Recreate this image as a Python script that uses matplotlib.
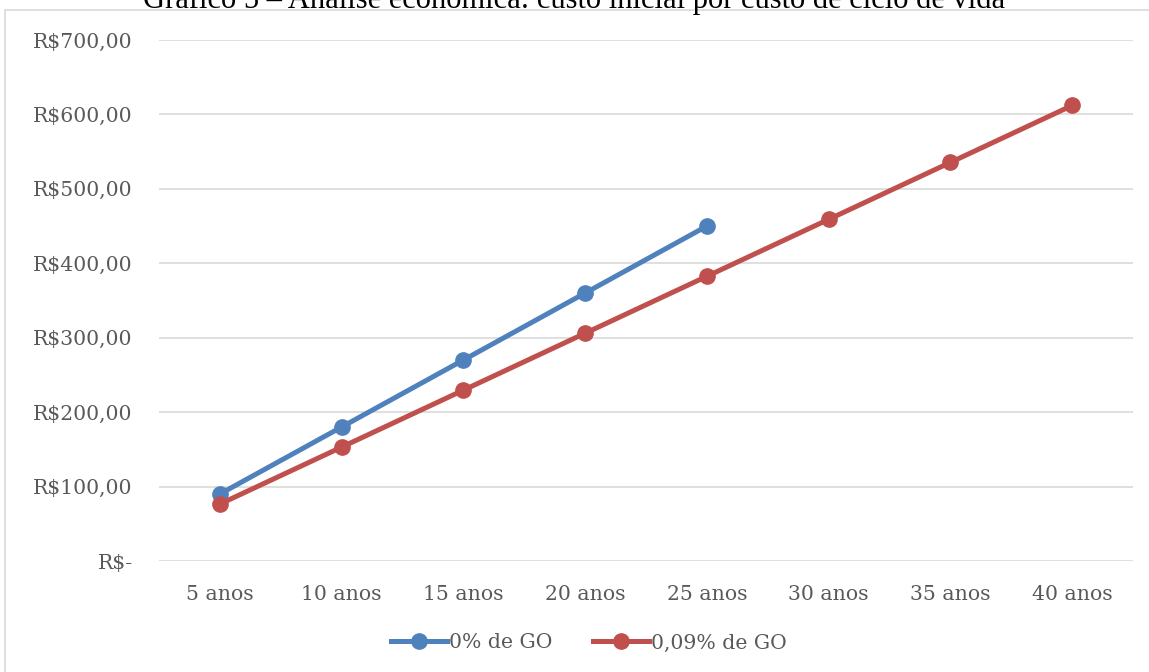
# custo inicial por custo de ciclo de vida - line chart
import matplotlib.pyplot as plt
from matplotlib.patches import Rectangle

categorias = ["5 anos", "10 anos", "15 anos", "20 anos",
              "25 anos", "30 anos", "35 anos", "40 anos"]
go_0 = [90, 180, 270, 360, 450]
go_009 = [76.5, 153, 229.5, 306, 382.5, 459, 535.5, 612]
yticks = [0, 100, 200, 300, 400, 500, 600, 700]
ylabels = ["R$-", "R$100,00", "R$200,00", "R$300,00",
           "R$400,00", "R$500,00", "R$600,00", "R$700,00"]

cinza = "#595959"
fs = 14.7
fig = plt.figure(figsize=(11.49, 6.72), dpi=100)
ax = fig.add_axes([159/1149, 1-561/672, (1133-159)/1149, (561-40)/672])

# chart frame
fig.patches.append(Rectangle((5/1149, -0.01), 1.0, 1-10/672+0.01,
                             transform=fig.transFigure, fill=False,
                             edgecolor="#d9d9d9", linewidth=1.2))

ax.plot(range(len(go_0)), go_0, color="#4f81bd", lw=3.6, marker="o",
        markersize=11, label="0% de GO", zorder=3)
ax.plot(range(len(go_009)), go_009, color="#c0504d", lw=3.6, marker="o",
        markersize=11, label="0,09% de GO", zorder=3)

ax.set_xlim(-0.5, len(categorias)-0.5)
ax.set_ylim(0, 700)
ax.set_xticks(range(len(categorias)))
ax.set_xticklabels(categorias, family="DejaVu Serif", fontsize=fs, color=cinza)
ax.set_yticks(yticks)
ax.set_yticklabels(ylabels, family="DejaVu Serif", fontsize=fs, color=cinza)
ax.tick_params(axis="y", length=0, pad=19)
ax.tick_params(axis="x", length=0, pad=17)
ax.grid(axis="y", color="#d9d9d9", lw=1.2)
ax.set_axisbelow(True)
for s in ax.spines.values():
    s.set_visible(False)

leg = fig.legend(loc="center", bbox_to_anchor=(589/1149, 1-643/672), ncol=2,
                 frameon=False, handlelength=2.75, handletextpad=0.1,
                 columnspacing=2.0, prop={"family": "DejaVu Serif", "size": fs})
for t in leg.get_texts():
    t.set_color(cinza)

fig.text(0.5, 1-8/672, "Gráfico 5 – Análise econômica: custo inicial por custo de ciclo de vida",
         ha="center", va="baseline", family="Liberation Serif", fontsize=22)

fig.savefig("out.png", dpi=100)
